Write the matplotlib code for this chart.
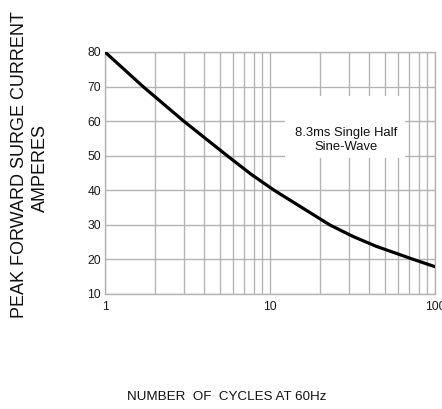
import matplotlib
matplotlib.use("Agg")
import matplotlib.pyplot as plt
from matplotlib.patches import Rectangle
from matplotlib.ticker import FixedLocator, NullFormatter

# Data
cycles = [1, 1.7, 3.0, 5.5, 7.7, 10.6, 23, 32, 44, 74, 100]
current = [80, 70, 60, 50, 44.6, 40, 30, 26.6, 23.8, 20, 17.9]
y_ticks = [10, 20, 30, 40, 50, 60, 70, 80]
x_major = [1, 10, 100]
x_major_labels = ["1", "10", "100"]
x_minor = [2, 3, 4, 5, 6, 7, 8, 9, 20, 30, 40, 50, 60, 70, 80, 90]

plt.rcParams['font.family'] = ['Liberation Sans', 'DejaVu Sans']

W, H = 442, 409
fig = plt.figure(figsize=(W / 100, H / 100), dpi=100)
ax = fig.add_axes([105 / W, 1 - 294 / H, 330 / W, 242 / H])

ax.set_xscale('log')
ax.set_xlim(1, 100)
ax.set_ylim(10, 80)

grid_c = '#b4b4b4'
ax.xaxis.set_major_locator(FixedLocator(x_major))
ax.xaxis.set_minor_locator(FixedLocator(x_minor))
ax.xaxis.set_minor_formatter(NullFormatter())
ax.set_xticklabels(x_major_labels)
ax.yaxis.set_major_locator(FixedLocator(y_ticks))
ax.set_yticklabels([str(v) for v in y_ticks])

ax.grid(True, which='major', axis='both', color=grid_c, linewidth=1.0)
ax.grid(True, which='minor', axis='x', color=grid_c, linewidth=1.0)
ax.tick_params(which='both', length=0)
ax.tick_params(axis='x', pad=5, labelsize=8.7, labelcolor='#1a1a1a')
ax.tick_params(axis='y', pad=3, labelsize=8.7, labelcolor='#1a1a1a')
for s in ax.spines.values():
    s.set_color(grid_c)
    s.set_linewidth(1.0)

ax.plot(cycles, current, color='black', linewidth=2.3, solid_capstyle='round',
        solid_joinstyle='round', zorder=4)

# white box behind the annotation
ax.add_patch(Rectangle((0.545, 0.562), 0.364, 0.256, transform=ax.transAxes,
                       facecolor='white', edgecolor='none', zorder=3))
ax.text(0.73, 0.635, "8.3ms Single Half\nSine-Wave", transform=ax.transAxes,
        ha='center', va='center', fontsize=9.4, linespacing=1.25, zorder=5,
        color='#111111')

fig.text(20 / W, 1 - 165 / H, "PEAK FORWARD SURGE CURRENT", rotation=90,
         ha='center', va='center', fontsize=13, color='#111111')
fig.text(40 / W, 1 - 168 / H, "AMPERES", rotation=90,
         ha='center', va='center', fontsize=13, color='#111111')
fig.text(127 / W, 1 - 397 / H, "NUMBER  OF  CYCLES AT 60Hz",
         ha='left', va='center', fontsize=9.6, color='#111111')

fig.savefig("out.png", dpi=100)
